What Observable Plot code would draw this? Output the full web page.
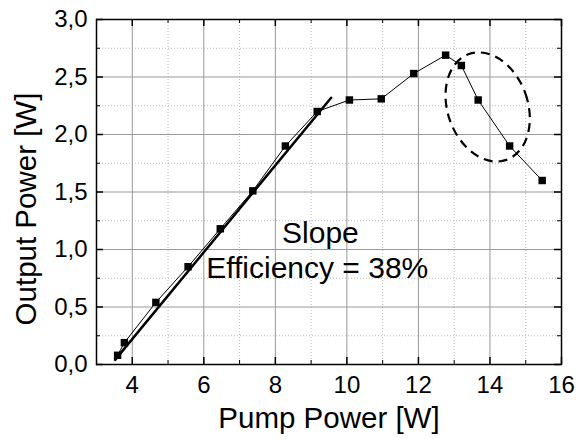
<!DOCTYPE html>
<html>
<head>
<meta charset="utf-8">
<script src="https://cdn.jsdelivr.net/npm/d3@7"></script>
<script src="https://cdn.jsdelivr.net/npm/@observablehq/plot@0.6"></script>
<style>
  body { margin: 0; background: white; }
</style>
</head>
<body>
<div id="chart"></div>
<script>
// measured points
var pumpPower = [3.59, 3.78, 4.66, 5.56, 6.46, 7.37, 8.28, 9.17, 10.07, 10.96, 11.87, 12.76, 13.2, 13.67, 14.55, 15.46]
var outputPower = [0.08, 0.19, 0.54, 0.85, 1.18, 1.51, 1.90, 2.20, 2.30, 2.31, 2.53, 2.69, 2.60, 2.30, 1.90, 1.60]

// linear fit (slope efficiency)
var fitX = [3.52, 9.56]
var fitY = [0.04, 2.32]

// dashed ellipse around the roll-off
var ellipseCenter = [13.95, 2.235]
var ellipseRadius = [1.12, 0.488]  // x units, y units
var ellipseTilt = -19.5

var xTicks = [4, 6, 8, 10, 12, 14, 16]
var xMinor = [5, 7, 9, 11, 13, 15]
var yTicks = [0, 0.5, 1.0, 1.5, 2.0, 2.5, 3.0]
var yMinor = [0.25, 0.75, 1.25, 1.75, 2.25, 2.75]

var data = pumpPower.map((p, i) => ({pump: p, out: outputPower[i]}))
var fit = fitX.map((p, i) => ({pump: p, out: fitY[i]}))

var comma = d => d.toFixed(1).replace(".", ",")

var chart = Plot.plot({
  width: 576,
  height: 439,
  marginLeft: 96,
  marginRight: 15,
  marginTop: 19,
  marginBottom: 75,
  style: {
    fontFamily: "Liberation Sans, Arial, sans-serif",
    fontSize: "24px",
    background: "white",
    color: "black"
  },
  x: {
    domain: [3, 16],
    ticks: xTicks,
    tickSize: 0,
    tickPadding: 11,
    label: null
  },
  y: {
    domain: [0, 3],
    ticks: yTicks,
    tickSize: 0,
    tickPadding: 9,
    tickFormat: comma,
    label: null
  },
  marks: [
    // grid
    Plot.ruleX(xMinor, {stroke: "#bbb", strokeDasharray: "1,2"}),
    Plot.ruleY(yMinor, {stroke: "#bbb", strokeDasharray: "1,2"}),
    Plot.ruleX(xTicks.slice(0, -1), {stroke: "#999"}),
    Plot.ruleY(yTicks.slice(1, -1), {stroke: "#999"}),

    // inward ticks on all four sides
    Plot.ruleX(xTicks, {x: d => d, y1: 0, y2: 0, insetTop: -7, strokeWidth: 1.5}),
    Plot.ruleX(xMinor, {x: d => d, y1: 0, y2: 0, insetTop: -4}),
    Plot.ruleX(xTicks, {x: d => d, y1: 3, y2: 3, insetBottom: -7, strokeWidth: 1.5}),
    Plot.ruleX(xMinor, {x: d => d, y1: 3, y2: 3, insetBottom: -4}),
    Plot.ruleY(yTicks, {y: d => d, x1: 3, x2: 3, insetRight: -7, strokeWidth: 1.5}),
    Plot.ruleY(yMinor, {y: d => d, x1: 3, x2: 3, insetRight: -4}),
    Plot.ruleY(yTicks, {y: d => d, x1: 16, x2: 16, insetLeft: -7, strokeWidth: 1.5}),
    Plot.ruleY(yMinor, {y: d => d, x1: 16, x2: 16, insetLeft: -4}),

    Plot.frame({stroke: "black", strokeWidth: 1.5}),

    // fit line
    Plot.line(fit, {x: "pump", y: "out", stroke: "black", strokeWidth: 2.5}),

    // data
    Plot.line(data, {x: "pump", y: "out", stroke: "black", strokeWidth: 1}),
    Plot.dot(data, {x: "pump", y: "out", symbol: "square", r: 4.2, fill: "black", stroke: "none"}),

    // ellipse
    (index, scales, values, dimensions) => {
      var cx = scales.x(ellipseCenter[0])
      var cy = scales.y(ellipseCenter[1])
      var rx = Math.abs(scales.x(ellipseCenter[0] + ellipseRadius[0]) - cx)
      var ry = Math.abs(scales.y(ellipseCenter[1] + ellipseRadius[1]) - cy)
      var el = d3.create("svg:ellipse")
        .attr("cx", 0).attr("cy", 0)
        .attr("rx", rx).attr("ry", ry)
        .attr("transform", `translate(${cx},${cy}) rotate(${ellipseTilt})`)
        .attr("fill", "none")
        .attr("stroke", "black")
        .attr("stroke-width", 2.2)
        .attr("stroke-dasharray", "9,6")
      return el.node()
    },

    // annotation
    Plot.text(["Slope"], {x: 9.26, y: 1.06, fontSize: 30, lineAnchor: "bottom", textAnchor: "middle"}),
    Plot.text(["Efficiency = 38%"], {x: 9.17, y: 0.755, fontSize: 30, lineAnchor: "bottom", textAnchor: "middle"}),

    // axis titles
    Plot.text(["Pump Power [W]"], {frameAnchor: "bottom", dy: 63, fontSize: 29.5, lineAnchor: "bottom", textAnchor: "middle"}),
    Plot.text(["Output Power [W]"], {frameAnchor: "left", dx: -61, dy: 17, rotate: -90, fontSize: 29.5, lineAnchor: "bottom", textAnchor: "middle"})
  ]
})

d3.select("#chart").append(() => chart)
</script>
</body>
</html>
